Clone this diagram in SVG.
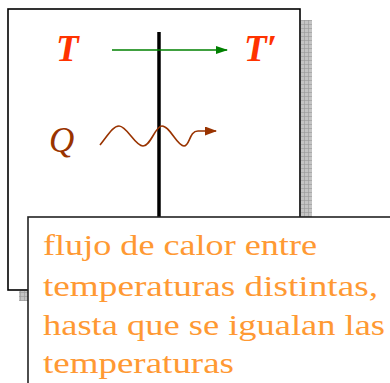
<svg xmlns="http://www.w3.org/2000/svg" width="390" height="383" viewBox="0 0 390 383">
<defs>
<pattern id="grid" x="0" y="0" width="4" height="4" patternUnits="userSpaceOnUse">
<rect width="4" height="4" fill="#c4c4c4"/>
<path d="M0 0.5H4M0.5 0V4" stroke="#999" stroke-width="0.6" fill="none"/>
</pattern>
<marker id="ag" markerWidth="12" markerHeight="8" refX="11" refY="4" orient="auto" markerUnits="userSpaceOnUse">
<path d="M0 0L12 4L0 8z" fill="#008000"/>
</marker>
<marker id="ab" markerWidth="12" markerHeight="9" refX="11" refY="4.5" orient="auto" markerUnits="userSpaceOnUse">
<path d="M0 0L12 4.5L0 9z" fill="#993300"/>
</marker>
</defs>
<style>
.sym{font-family:"Liberation Serif",serif;font-style:italic;font-weight:bold;font-size:37px}
.txt{font-family:"Liberation Serif",serif;font-size:30px;fill:#ff9933}
</style>
<g id="shadow">
<rect x="301" y="20" width="11" height="281" fill="url(#grid)"/>
<rect x="19" y="291" width="293" height="10" fill="url(#grid)"/>
</g>
<g id="panel">
<rect x="8" y="9" width="292" height="281" fill="#fff" stroke="#000" stroke-width="1.6"/>
</g>
<g id="wall">
<line x1="159" y1="32" x2="159" y2="218" stroke="#000" stroke-width="3.5"/>
</g>
<g id="T"><text class="sym" x="56" y="61" fill="#ff3300">T</text></g>
<g id="Tprime"><text class="sym" x="244" y="61" fill="#ff3300">T′</text></g>
<g id="Q"><text x="49" y="152" fill="#993300" font-family="Liberation Serif, serif" font-style="italic" font-size="35">Q</text></g>
<g id="connectors">
<line x1="112" y1="50" x2="227" y2="50" stroke="#008000" stroke-width="1.6" marker-end="url(#ag)"/>
<path d="M100 145C108 135 113 126 119 126C127 126 135 146 143 146C151 146 155 126 162 126C170 126 177 146 184 146C190 146 189 131 198 131L216 131" fill="none" stroke="#993300" stroke-width="1.6" marker-end="url(#ab)"/>
</g>
<g id="caption">
<rect x="28" y="217" width="370" height="175" fill="#fff" stroke="#222" stroke-width="1.6"/>
<text class="txt" x="43" y="255" textLength="274" lengthAdjust="spacingAndGlyphs">flujo de calor entre</text>
<text class="txt" x="43" y="296" textLength="335" lengthAdjust="spacingAndGlyphs">temperaturas distintas,</text>
<text class="txt" x="43" y="335" textLength="342" lengthAdjust="spacingAndGlyphs">hasta que se igualan las</text>
<text class="txt" x="43" y="373" textLength="191" lengthAdjust="spacingAndGlyphs">temperaturas</text>
</g>
</svg>
